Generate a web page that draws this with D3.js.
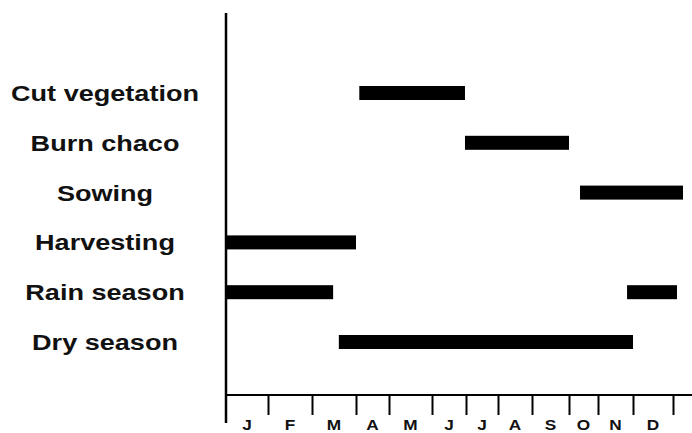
<!DOCTYPE html>
<html>
<head>
<meta charset="utf-8">
<script src="https://cdn.jsdelivr.net/npm/d3@7"></script>
<style>
  html, body { margin: 0; padding: 0; background: #fff; }
  svg { display: block; }
  text { font-family: "Liberation Sans", Arial, Helvetica, sans-serif; font-weight: bold; fill: #111; }
</style>
</head>
<body>
<svg id="chart" width="692" height="433"></svg>
<script>
// ---- data ----
const categories = ["Cut vegetation", "Burn chaco", "Sowing", "Harvesting", "Rain season", "Dry season"];
const monthLabels = ["J", "F", "M", "A", "M", "J", "J", "A", "S", "O", "N", "D"];
// activity segments (in months from 1 January)
const segCategory = ["Cut vegetation", "Burn chaco", "Sowing", "Harvesting", "Rain season", "Rain season", "Dry season"];
const segStart    = [3.1, 5.97, 9.38, 0, 0, 10.83, 2.61];
const segEnd      = [5.97, 9.0, 12.25, 3.0, 2.48, 12.1, 11.0];

// ---- layout ----
const W = 692, H = 433;
const svg = d3.select("#chart");
svg.append("rect").attr("width", W).attr("height", H).attr("fill", "#fff");

// hand-drawn month boundaries on the original axis
const x = d3.scaleLinear()
  .domain(d3.range(13))
  .range([226, 268, 312, 356, 389, 432, 466, 498, 532, 569, 598, 633, 673]);

const y = d3.scalePoint()
  .domain(categories)
  .range([93, 342]);

const axisY = 395;

// bars
const barH = 14;
svg.append("g").selectAll("rect")
  .data(segCategory.map((c, i) => ({c, s: segStart[i], e: segEnd[i]})))
  .join("rect")
  .attr("x", d => x(d.s))
  .attr("y", d => y(d.c) - barH / 2)
  .attr("width", d => x(d.e) - x(d.s))
  .attr("height", barH)
  .attr("fill", "#000");

// vertical axis line
svg.append("line")
  .attr("x1", x(0)).attr("x2", x(0))
  .attr("y1", 13).attr("y2", 423)
  .attr("stroke", "#000").attr("stroke-width", 2.5);

// bottom axis
const xAxis = d3.axisBottom(x)
  .tickValues(d3.range(1, 13))
  .tickSize(20)
  .tickSizeOuter(0)
  .tickFormat("");
const gx = svg.append("g")
  .attr("transform", `translate(0,${axisY})`)
  .call(xAxis);
gx.select(".domain").remove();
gx.selectAll(".tick line").attr("stroke", "#000").attr("stroke-width", 2);
svg.append("line")
  .attr("x1", x(0)).attr("x2", W)
  .attr("y1", axisY).attr("y2", axisY)
  .attr("stroke", "#000").attr("stroke-width", 2);

// month labels
svg.append("g").selectAll("g")
  .data(monthLabels)
  .join("g")
  .attr("transform", (d, i) => `translate(${x(i + 0.5)},430) scale(1.15,1)`)
  .append("text")
  .attr("text-anchor", "middle")
  .style("font-size", "15px")
  .text(d => d);

// category labels
svg.append("g").selectAll("g")
  .data(categories)
  .join("g")
  .attr("transform", d => `translate(105,${y(d) + 8}) scale(1.23,1)`)
  .append("text")
  .attr("text-anchor", "middle")
  .style("font-size", "22px")
  .text(d => d);
</script>
</body>
</html>
